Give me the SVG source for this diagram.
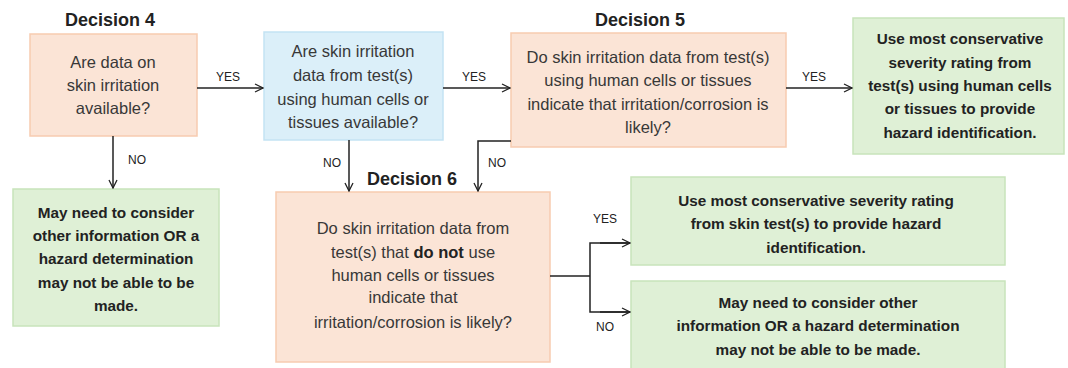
<svg xmlns="http://www.w3.org/2000/svg" width="1068" height="368" viewBox="0 0 1068 368">
<defs>
<marker id="arr" viewBox="0 0 10 10" refX="9" refY="5" markerWidth="10" markerHeight="10" markerUnits="userSpaceOnUse" orient="auto">
<path d="M1,1 L9,5 L1,9" fill="none" stroke="#222" stroke-width="1.3"/>
</marker>
</defs>
<style>
.orange{fill:#fbe4d6;stroke:#f7cbb0;stroke-width:1.5}
.blue{fill:#dbeff9;stroke:#c4e3f3;stroke-width:1.5}
.green{fill:#dff0d6;stroke:#c8e4bb;stroke-width:1.5}
.t{font-family:"Liberation Sans",Arial,sans-serif;font-size:16.5px;fill:#383838;text-anchor:middle}
.b{font-family:"Liberation Sans",Arial,sans-serif;font-size:15.3px;font-weight:bold;fill:#222;text-anchor:middle}
.h{font-family:"Liberation Sans",Arial,sans-serif;font-size:18px;font-weight:bold;fill:#222;text-anchor:middle}
.l{font-family:"Liberation Sans",Arial,sans-serif;font-size:12px;fill:#222;text-anchor:middle}
.c{fill:none;stroke:#222;stroke-width:1.5}
</style>
<g id="title4"><text class="h" x="110" y="26">Decision 4</text></g>
<g id="title5"><text class="h" x="640" y="26">Decision 5</text></g>
<g id="title6"><text class="h" x="412" y="185">Decision 6</text></g>
<g id="nodeA">
<rect class="orange" x="30" y="34" width="167" height="102"/>
<text class="t" x="113" y="68">Are data on</text>
<text class="t" x="113" y="91">skin irritation</text>
<text class="t" x="113" y="114">available?</text>
</g>
<g id="nodeB">
<rect class="blue" x="264" y="32" width="179" height="108"/>
<text class="t" x="353" y="57">Are skin irritation</text>
<text class="t" x="353" y="81">data from test(s)</text>
<text class="t" x="353" y="105">using human cells or</text>
<text class="t" x="353" y="128">tissues available?</text>
</g>
<g id="nodeC">
<rect class="orange" x="511" y="33" width="275" height="114"/>
<text class="t" x="648" y="63">Do skin irritation data from test(s)</text>
<text class="t" x="648" y="86">using human cells or tissues</text>
<text class="t" x="648" y="110">indicate that irritation/corrosion is</text>
<text class="t" x="648" y="133">likely?</text>
</g>
<g id="nodeD">
<rect class="green" x="853" y="18" width="211" height="136"/>
<text class="b" x="960" y="44">Use most conservative</text>
<text class="b" x="960" y="68">severity rating from</text>
<text class="b" x="960" y="91">test(s) using human cells</text>
<text class="b" x="960" y="114">or tissues to provide</text>
<text class="b" x="960" y="138">hazard identification.</text>
</g>
<g id="nodeE">
<rect class="green" x="13" y="189" width="206" height="137"/>
<text class="b" x="116" y="218">May need to consider</text>
<text class="b" x="116" y="241">other information OR a</text>
<text class="b" x="116" y="264">hazard determination</text>
<text class="b" x="116" y="288">may not be able to be</text>
<text class="b" x="116" y="311">made.</text>
</g>
<g id="nodeF">
<rect class="orange" x="276" y="192" width="274" height="170"/>
<text class="t" x="413" y="234">Do skin irritation data from</text>
<text class="t" x="413" y="258">test(s) that <tspan font-weight="bold" fill="#222">do not</tspan> use</text>
<text class="t" x="413" y="281">human cells or tissues</text>
<text class="t" x="413" y="303">indicate that</text>
<text class="t" x="413" y="328">irritation/corrosion is likely?</text>
</g>
<g id="nodeG">
<rect class="green" x="631" y="177" width="374" height="88"/>
<text class="b" x="816" y="206">Use most conservative severity rating</text>
<text class="b" x="816" y="229">from skin test(s) to provide hazard</text>
<text class="b" x="816" y="253">identification.</text>
</g>
<g id="nodeH">
<rect class="green" x="631" y="281" width="374" height="92"/>
<text class="b" x="818" y="308">May need to consider other</text>
<text class="b" x="818" y="331">information OR a hazard determination</text>
<text class="b" x="818" y="355">may not be able to be made.</text>
</g>
<g id="connectors">
<line class="c" x1="197" y1="88" x2="263" y2="88" marker-end="url(#arr)"/>
<line class="c" x1="443" y1="88" x2="510" y2="88" marker-end="url(#arr)"/>
<line class="c" x1="786" y1="88" x2="852" y2="88" marker-end="url(#arr)"/>
<line class="c" x1="113" y1="136" x2="113" y2="188" marker-end="url(#arr)"/>
<line class="c" x1="349" y1="140" x2="349" y2="191" marker-end="url(#arr)"/>
<polyline class="c" points="511,141 478,141 478,191" marker-end="url(#arr)"/>
<line class="c" x1="550" y1="276" x2="590" y2="276"/>
<polyline class="c" points="630,243 590,243 590,312 630,312"/>
<line class="c" x1="600" y1="243" x2="630" y2="243" marker-end="url(#arr)"/>
<line class="c" x1="600" y1="312" x2="630" y2="312" marker-end="url(#arr)"/>
<text class="l" x="228" y="81">YES</text>
<text class="l" x="474" y="81">YES</text>
<text class="l" x="814" y="81">YES</text>
<text class="l" x="137" y="164">NO</text>
<text class="l" x="332" y="167">NO</text>
<text class="l" x="497" y="167">NO</text>
<text class="l" x="605" y="223">YES</text>
<text class="l" x="605" y="331">NO</text>
</g>
</svg>
